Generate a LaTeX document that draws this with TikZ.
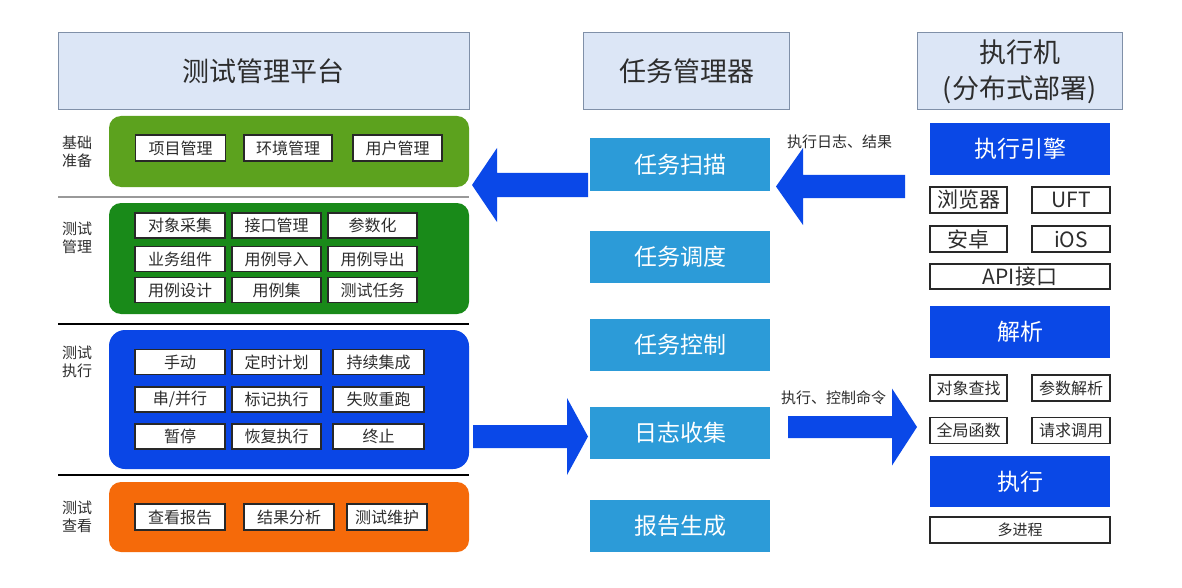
\documentclass[tikz,border=0pt]{standalone}
\usepackage{fontspec}
\setmainfont{Noto Sans CJK SC}
\definecolor{hdrfill}{RGB}{220,230,246}
\definecolor{hdrborder}{RGB}{128,144,168}
\definecolor{gA}{RGB}{92,162,30}
\definecolor{gB}{RGB}{25,138,25}
\definecolor{gC}{RGB}{10,70,230}
\definecolor{gD}{RGB}{245,106,10}
\definecolor{midblue}{RGB}{44,155,216}
\definecolor{rblue}{RGB}{10,72,230}
\definecolor{arrowblue}{RGB}{10,72,232}
\definecolor{textdark}{RGB}{45,45,45}
\definecolor{itemborder}{RGB}{40,40,40}
\newcommand{\fatarr}[6]{% tail x, head base x, tip x, y, shaft half, head half
  \fill[arrowblue] (#1,#4-#5) -- (#2,#4-#5) -- (#2,#4-#6) -- (#3,#4) -- (#2,#4+#6) -- (#2,#4+#5) -- (#1,#4+#5) -- cycle;}
\begin{document}
\begin{tikzpicture}[x=1pt,y=-1pt,
  hdr/.style={draw=hdrborder, fill=hdrfill, line width=1pt, inner sep=0pt, align=center,
    font=\fontsize{27}{36}\selectfont, text=textdark},
  grp/.style={rounded corners=12pt, inner sep=0pt, draw=none, minimum width=360pt},
  item/.style={draw=itemborder, fill=white, line width=1.3pt, inner sep=0pt,
    minimum height=25pt, font=\fontsize{16}{18}\selectfont, text=textdark},
  ritem/.style={draw=itemborder, fill=white, line width=1.3pt, inner sep=0pt,
    minimum height=26pt, font=\fontsize{21}{24}\selectfont, text=textdark},
  sitem/.style={draw=itemborder, fill=white, line width=1.3pt, inner sep=0pt,
    minimum height=26pt, font=\fontsize{16}{18}\selectfont, text=textdark},
  midbox/.style={fill=midblue, inner sep=0pt, minimum width=180pt, minimum height=52pt,
    text=white, font=\fontsize{23}{26}\selectfont},
  rbox/.style={fill=rblue, inner sep=0pt, minimum width=180pt, minimum height=52pt,
    text=white, font=\fontsize{23}{26}\selectfont},
  lbl/.style={font=\fontsize{15}{18}\selectfont, align=left, text=textdark, inner sep=0pt},
  alabel/.style={font=\fontsize{15}{18}\selectfont, text=textdark, inner sep=0pt}
]
\useasboundingbox (0,0) rectangle (1182,588);
\fill[white] (0,0) rectangle (1182,588);

% headers
\node[hdr, minimum width=411pt, minimum height=77pt] (hL) at (263.5,71.5) {测试管理平台};
\node[hdr, minimum width=206pt, minimum height=77pt] (hM) at (686.5,71.5) {任务管理器};
\node[hdr, minimum width=205pt, minimum height=77pt] (hR) at (1019.5,71.5) {执行机\\(分布式部署)};

% left groups
\node[grp, fill=gA, minimum height=71pt] (g1) at (289,151.5) {};
\node[grp, fill=gB, minimum height=111pt] (g2) at (289,258.5) {};
\node[grp, fill=gC, minimum height=139pt, rounded corners=16pt] (g3) at (289,399.5) {};
\node[grp, fill=gD, minimum height=70pt] (g4) at (289,517) {};

% separators
\draw[gray!80, line width=1.5pt] (58,197) coordinate (s1a) -- (469,197) coordinate (s1b);
\draw[black, line width=1.3pt] (58,324) coordinate (s2a) -- (469,324) coordinate (s2b);
\draw[black, line width=1.3pt] (58,475) coordinate (s3a) -- (469,475) coordinate (s3b);

% row labels
\node[lbl] (l1) at (77,152) {基础\\准备};
\node[lbl] (l2) at (77,238) {测试\\管理};
\node[lbl] (l3) at (77,362) {测试\\执行};
\node[lbl] (l4) at (77,517) {测试\\查看};

% group 1 items
\node[item, minimum width=90pt, minimum height=26pt] (a1) at (180.5,148) {项目管理};
\node[item, minimum width=88pt, minimum height=26pt] (a2) at (288,148) {环境管理};
\node[item, minimum width=89pt, minimum height=26pt] (a3) at (397.5,148) {用户管理};

% group 2 items
\node[item, minimum width=90pt] (b1) at (180,225.5) {对象采集};
\node[item, minimum width=89pt] (b2) at (276.5,225.5) {接口管理};
\node[item, minimum width=89pt] (b3) at (372.5,225.5) {参数化};
\node[item, minimum width=90pt] (b4) at (180,259) {业务组件};
\node[item, minimum width=89pt] (b5) at (276.5,259) {用例导入};
\node[item, minimum width=89pt] (b6) at (372.5,259) {用例导出};
\node[item, minimum width=90pt] (b7) at (180,290) {用例设计};
\node[item, minimum width=89pt] (b8) at (276.5,290) {用例集};
\node[item, minimum width=89pt] (b9) at (372.5,290) {测试任务};

% group 3 items
\node[item, minimum width=90pt] (c1) at (180,362) {手动};
\node[item, minimum width=89pt] (c2) at (276.5,362) {定时计划};
\node[item, minimum width=91pt] (c3) at (378.5,362) {持续集成};
\node[item, minimum width=90pt] (c4) at (180,399.5) {串/并行};
\node[item, minimum width=89pt] (c5) at (276.5,399.5) {标记执行};
\node[item, minimum width=91pt] (c6) at (378.5,399.5) {失败重跑};
\node[item, minimum width=90pt] (c7) at (180,436.5) {暂停};
\node[item, minimum width=89pt] (c8) at (276.5,436.5) {恢复执行};
\node[item, minimum width=91pt] (c9) at (378.5,436.5) {终止};

% group 4 items
\node[item, minimum width=90pt, minimum height=26pt] (d1) at (180,517) {查看报告};
\node[item, minimum width=90pt, minimum height=26pt] (d2) at (289,517) {结果分析};
\node[item, minimum width=80pt, minimum height=26pt] (d3) at (387,517) {测试维护};

% middle column
\node[midbox] (m1) at (680,164.5) {任务扫描};
\node[midbox] (m2) at (680,256.5) {任务调度};
\node[midbox] (m3) at (680,345) {任务控制};
\node[midbox] (m4) at (680,433) {日志收集};
\node[midbox] (m5) at (680,526) {报告生成};

% right column
\node[rbox] (r1) at (1020,149) {执行引擎};
\node[ritem, minimum width=77pt] (r2) at (968.5,200) {浏览器};
\node[ritem, minimum width=78pt] (r3) at (1071,200) {UFT};
\node[ritem, minimum width=77pt] (r4) at (968.5,239) {安卓};
\node[ritem, minimum width=78pt] (r5) at (1071,239) {iOS};
\node[ritem, minimum width=180pt, minimum height=25pt] (r6) at (1020,276.5) {API接口};
\node[rbox] (r7) at (1020,332) {解析};
\node[sitem, minimum width=77pt] (r8) at (968.5,388) {对象查找};
\node[sitem, minimum width=78pt] (r9) at (1071,388) {参数解析};
\node[sitem, minimum width=77pt] (r10) at (968.5,430.5) {全局函数};
\node[sitem, minimum width=78pt] (r11) at (1071,430.5) {请求调用};
\node[rbox, minimum height=51pt] (r12) at (1020,481.5) {执行};
\node[sitem, minimum width=180pt, font=\fontsize{15}{18}\selectfont] (r13) at (1020,530) {多进程};

% big arrows
\fatarr{588}{497}{472}{185}{12}{37}
\fatarr{473}{567}{588}{436.5}{11.5}{38.5}
\fatarr{788}{892}{917}{427}{11}{38.5}
\fatarr{905}{803}{776}{186.5}{11.5}{38.5}

% arrow labels
\node[alabel] (t1) at (839.5,142) {执行日志、结果};
\node[alabel] (t2) at (833.5,398) {执行、控制命令};
\end{tikzpicture}
\end{document}
